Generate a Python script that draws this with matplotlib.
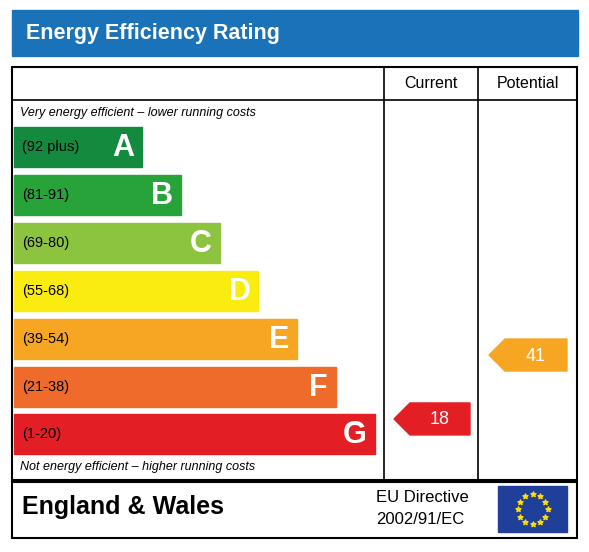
import matplotlib
matplotlib.use("Agg")
import matplotlib.pyplot as plt
from matplotlib.patches import Rectangle, Polygon
import numpy as np

plt.rcParams["font.family"] = ["Liberation Sans", "DejaVu Sans"]

letters = ["A", "B", "C", "D", "E", "F", "G"]
ranges = ["(92 plus)", "(81-91)", "(69-80)", "(55-68)", "(39-54)", "(21-38)", "(1-20)"]
colors = ["#138a3e", "#27a33a", "#8cc43f", "#fbec10", "#f6a623", "#ee6b2b", "#e31e24"]
range_min = [92, 81, 69, 55, 39, 21, 1]
current = 18
potential = 41

fig = plt.figure(figsize=(5.89, 5.52), dpi=100)
ax = fig.add_axes([0, 0, 1, 1])
ax.set_xlim(0, 589); ax.set_ylim(552, 0); ax.axis("off")

ax.add_patch(Rectangle((12, 10), 566, 46, color="#1a72b8"))
ax.text(26, 33, "Energy Efficiency Rating", color="white", fontsize=15.5, fontweight="bold", va="center")

ax.add_patch(Rectangle((12, 67), 565, 413, fill=False, lw=1.5, ec="black"))
ax.plot([384, 384], [67, 480], color="black", lw=1.2)
ax.plot([478, 478], [67, 480], color="black", lw=1.2)
ax.plot([12, 577], [100, 100], color="black", lw=1.2)
ax.text(431, 84, "Current", ha="center", va="center", fontsize=11.5)
ax.text(528, 84, "Potential", ha="center", va="center", fontsize=11.5)
ax.text(20, 113, "Very energy efficient \u2013 lower running costs", style="italic", fontsize=9, va="center")
ax.text(20, 467, "Not energy efficient \u2013 higher running costs", style="italic", fontsize=9, va="center")

top0, step, h = 127, 47.9, 40
for i, (l, r, c) in enumerate(zip(letters, ranges, colors)):
    y = top0 + i * step
    right = 142 + i * 38.8
    ax.add_patch(Rectangle((14, y), right - 14, h, color=c))
    ax.text(22, y + h / 2, r, fontsize=10.5, va="center", color="black")
    ax.text(right - 8, y + h / 2 + 1, l, fontsize=22, fontweight="bold", color="white", ha="right", va="center")

def band(v):
    for i, m in enumerate(range_min):
        if v >= m:
            return i
    return 6

def arrow(x0, x1, v):
    i = band(v)
    yc = 469 - 2.78 * v
    hh = 16
    ax.add_patch(Polygon([(x0, yc), (x0 + 16, yc - hh), (x1, yc - hh), (x1, yc + hh), (x0 + 16, yc + hh)], color=colors[i]))
    ax.text((x0 + 16 + x1) / 2, yc + 1, str(v), color="white", fontsize=13, ha="center", va="center")

arrow(394, 470, current)
arrow(489, 567, potential)

ax.add_patch(Rectangle((12, 482), 565, 56, fill=False, lw=1.5, ec="black"))
ax.text(22, 507, "England & Wales", fontsize=18, fontweight="bold", va="center")
ax.text(376, 497, "EU Directive", fontsize=12, va="center")
ax.text(376, 520, "2002/91/EC", fontsize=12, va="center")
ax.add_patch(Rectangle((498, 486), 69, 46, color="#1f3f98"))
ang = np.linspace(0, 2 * np.pi, 13)[:-1]
ax.scatter(532.5 + 15 * np.cos(ang), 509 + 15 * np.sin(ang), marker="*", s=14, color="#ffdd00", zorder=5)

fig.savefig("out.png", dpi=100)
